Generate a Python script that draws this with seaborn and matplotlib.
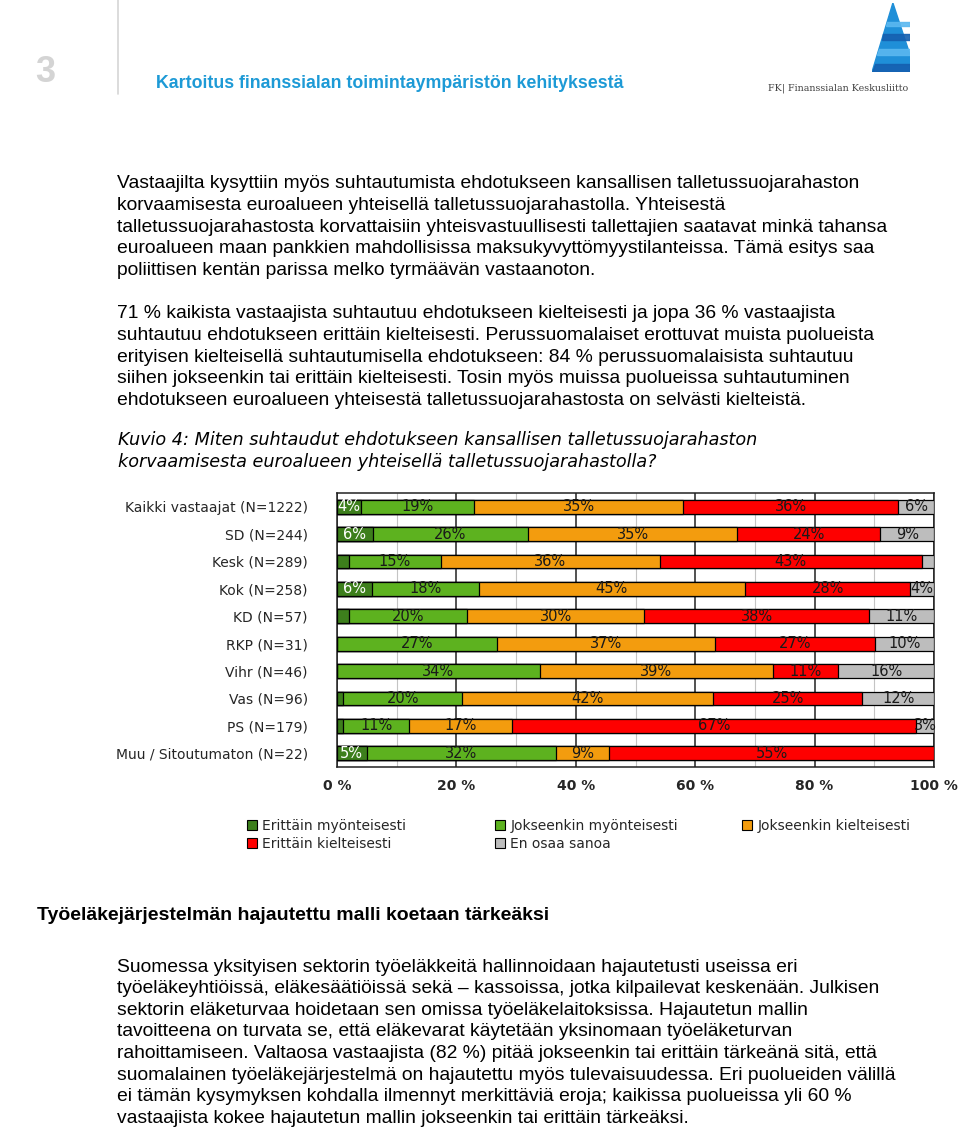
import numpy as np
import pandas as pd
import matplotlib
matplotlib.use("Agg")
import matplotlib.pyplot as plt
from matplotlib.patches import Patch, Polygon
import seaborn as sns

# ---------------- data ----------------
groups = ["Kaikki vastaajat (N=1222)", "SD (N=244)", "Kesk (N=289)", "Kok (N=258)",
          "KD (N=57)", "RKP (N=31)", "Vihr (N=46)", "Vas (N=96)", "PS (N=179)",
          "Muu / Sitoutumaton (N=22)"]
categories = ["Erittäin myönteisesti", "Jokseenkin myönteisesti", "Jokseenkin kielteisesti",
              "Erittäin kielteisesti", "En osaa sanoa"]
erittain_myont = [4, 6, 2, 6, 2, 0, 0, 1, 1, 5]
jokseenkin_myont = [19, 26, 15, 18, 20, 27, 34, 20, 11, 32]
jokseenkin_kielt = [35, 35, 36, 45, 30, 37, 39, 42, 17, 9]
erittain_kielt = [36, 24, 43, 28, 38, 27, 11, 25, 67, 55]
en_osaa = [6, 9, 2, 4, 11, 10, 16, 12, 3, 0]
xticks = [0, 20, 40, 60, 80, 100]
xtick_labels = ["0 %", "20 %", "40 %", "60 %", "80 %", "100 %"]

colors = ["#3d7f1c", "#5db21f", "#f39c0e", "#fe0000", "#bdbdbd"]
label_colors = ["white", "#1a1a1a", "#1a1a1a", "#1a1a1a", "#1a1a1a"]

series = [erittain_myont, jokseenkin_myont, jokseenkin_kielt, erittain_kielt, en_osaa]
vals = np.array(series, dtype=float)          # shape (5, 10)
totals = vals.sum(axis=0)
shares = vals / totals * 100                  # normalise each bar to 100 %
cums = np.cumsum(shares, axis=0)

df = pd.DataFrame({"group": groups})
for k in range(len(categories)):
    df[f"cum{k}"] = cums[k]

# ---------------- figure ----------------
sns.set_theme(style="white")
plt.rcParams["font.family"] = ["DejaVu Sans"]
fig = plt.figure(figsize=(9.6, 11.3), dpi=100)
W, H = 960, 1130

def fx(px):
    return px / W

def fy(py):
    return 1 - py / H

body_font = "Liberation Sans"

# header
fig.text(fx(45.5), fy(72), "3", fontsize=26, color="#d4d4d4", fontweight="bold",
         family=body_font, ha="center", va="center")
fig.add_artist(plt.Line2D([fx(118), fx(118)], [fy(0), fy(94)], color="#d6d6d6", lw=1.2))
fig.text(fx(156), fy(83), "Kartoitus finanssialan toimintaympäristön kehityksestä",
         fontsize=12.8, color="#1d9ad6", fontweight="bold", family=body_font,
         ha="left", va="center")

# logo
lax = fig.add_axes([fx(872), fy(72), fx(38), (72 - 3) / H])
lax.set_xlim(0, 1)
lax.set_ylim(0, 1)
lax.axis("off")
lax.add_patch(Polygon([[0.55, 1.0], [0.0, 0.0], [1.0, 0.0], [1.0, 0.25]], closed=True,
                      color="#1f8fd8"))
stripe_y = [(0.0, 0.12, "#1560b0"), (0.25, 0.33, "#5ab8f0"), (0.47, 0.55, "#1560b0"),
            (0.66, 0.72, "#5ab8f0")]
for y0, y1, c in stripe_y:
    xl0 = 0.55 * y0 / 1.0
    xl1 = 0.55 * y1 / 1.0
    lax.add_patch(Polygon([[xl0, y0], [1.0, y0], [1.0, y1], [xl1, y1]], closed=True,
                          color=c, alpha=0.9))
fig.text(fx(908), fy(88), "FK| Finanssialan Keskusliitto", fontsize=6.8, color="#444444",
         family="DejaVu Serif", ha="right", va="center")

# paragraphs
para1 = ["Vastaajilta kysyttiin myös suhtautumista ehdotukseen kansallisen talletussuojarahaston",
         "korvaamisesta euroalueen yhteisellä talletussuojarahastolla. Yhteisestä",
         "talletussuojarahastosta korvattaisiin yhteisvastuullisesti tallettajien saatavat minkä tahansa",
         "euroalueen maan pankkien mahdollisissa maksukyvyttömyystilanteissa. Tämä esitys saa",
         "poliittisen kentän parissa melko tyrmäävän vastaanoton."]
para2 = ["71 % kaikista vastaajista suhtautuu ehdotukseen kielteisesti ja jopa 36 % vastaajista",
         "suhtautuu ehdotukseen erittäin kielteisesti. Perussuomalaiset erottuvat muista puolueista",
         "erityisen kielteisellä suhtautumisella ehdotukseen: 84 % perussuomalaisista suhtautuu",
         "siihen jokseenkin tai erittäin kielteisesti. Tosin myös muissa puolueissa suhtautuminen",
         "ehdotukseen euroalueen yhteisestä talletussuojarahastosta on selvästi kielteistä."]
para3 = ["Suomessa yksityisen sektorin työeläkkeitä hallinnoidaan hajautetusti useissa eri",
         "työeläkeyhtiöissä, eläkesäätiöissä sekä – kassoissa, jotka kilpailevat keskenään. Julkisen",
         "sektorin eläketurvaa hoidetaan sen omissa työeläkelaitoksissa. Hajautetun mallin",
         "tavoitteena on turvata se, että eläkevarat käytetään yksinomaan työeläketurvan",
         "rahoittamiseen. Valtaosa vastaajista (82 %) pitää jokseenkin tai erittäin tärkeänä sitä, että",
         "suomalainen työeläkejärjestelmä on hajautettu myös tulevaisuudessa. Eri puolueiden välillä",
         "ei tämän kysymyksen kohdalla ilmennyt merkittäviä eroja; kaikissa puolueissa yli 60 %",
         "vastaajista kokee hajautetun mallin jokseenkin tai erittäin tärkeäksi."]

def draw_para(lines, y0, step=21.6):
    for i, line in enumerate(lines):
        fig.text(fx(117), fy(y0 + i * step), line, fontsize=13.9, family=body_font,
                 color="black", ha="left", va="center")

draw_para(para1, 184)
draw_para(para2, 314)
draw_para(para3, 967)

# caption
fig.text(fx(118), fy(440), "Kuvio 4: Miten suhtaudut ehdotukseen kansallisen talletussuojarahaston",
         fontsize=12.7, style="italic", color="black", ha="left", va="center")
fig.text(fx(118), fy(462), "korvaamisesta euroalueen yhteisellä talletussuojarahastolla?",
         fontsize=12.7, style="italic", color="black", ha="left", va="center")

# heading
fig.text(fx(37), fy(916), "Työeläkejärjestelmän hajautettu malli koetaan tärkeäksi",
         fontsize=14, fontweight="bold", family=body_font, color="black",
         ha="left", va="center")

# ---------------- chart ----------------
ax = fig.add_axes([fx(337), fy(767), fx(934) - fx(337), (767 - 493) / H])
for k in range(len(categories) - 1, -1, -1):
    sns.barplot(data=df, x=f"cum{k}", y="group", order=groups, orient="h",
                color=colors[k], saturation=1, width=0.5, edgecolor="black",
                linewidth=0.9, ax=ax, zorder=3)

for k in range(len(categories)):
    for i in range(len(groups)):
        v = vals[k, i]
        if v >= 3:
            xc = cums[k, i] - shares[k, i] / 2
            ax.text(xc, i, f"{int(v)}%", ha="center", va="center", fontsize=10.5,
                    color=label_colors[k], zorder=5)

ax.set_xlim(0, 100)
ax.set_ylim(len(groups) - 0.5, -0.5)
ax.set_xticks(xticks)
ax.set_xticklabels(xtick_labels, fontsize=10, fontweight="bold")
ax.set_xticks([10, 30, 50, 70, 90], minor=True)
ax.set_xlabel("")
ax.set_ylabel("")
ax.tick_params(axis="y", length=0, pad=21, labelsize=10)
ax.tick_params(axis="x", which="both", length=0, pad=9)
ax.grid(axis="x", which="major", color="#222222", lw=1.1, zorder=0)
ax.grid(axis="x", which="minor", color="#c4c4c4", lw=0.8, zorder=0)
ax.grid(axis="y", visible=False)
ax.set_axisbelow(True)
for s in ax.spines.values():
    s.set_visible(True)
    s.set_color("#222222")
    s.set_linewidth(1.1)

# legend (three columns placed separately)
handles = [Patch(facecolor=colors[k], edgecolor="black", linewidth=0.8, label=categories[k])
           for k in range(len(categories))]
col_members = [[0, 3], [1, 4], [2]]
col_x = [247, 495, 742]
for members, x in zip(col_members, col_x):
    fig.legend(handles=[handles[m] for m in members], loc="upper left",
               bbox_to_anchor=(fx(x), fy(819)), frameon=False, fontsize=10,
               handlelength=0.75, handleheight=0.75, handletextpad=0.35,
               labelspacing=0.3, borderpad=0, borderaxespad=0)

fig.savefig("out.png", dpi=100)
